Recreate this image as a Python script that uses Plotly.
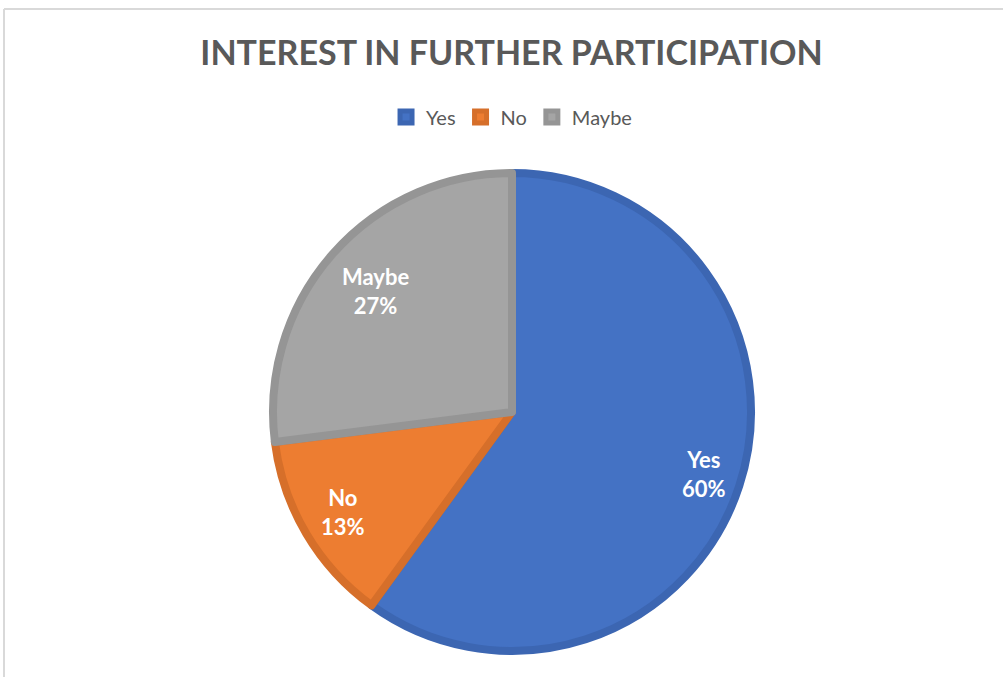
import math
import plotly.graph_objects as go

# Survey responses
categories = ["Yes", "No", "Maybe"]
shares = [60, 13, 27]

fill_colors = ["#4472C4", "#ED7D31", "#A5A5A5"]
edge_colors = ["#3C66B2", "#D66F2A", "#959595"]
# how far out along each slice's bisector its label sits (fraction of radius)
label_radius = [0.83, 0.81, 0.75]

W, H = 1003, 677
cx, cy, r = 512, 412, 239

fig = go.Figure(
    go.Pie(
        labels=categories,
        values=shares,
        sort=False,
        direction="clockwise",
        rotation=0,
        textinfo="none",
        marker=dict(colors=fill_colors, line=dict(color=edge_colors, width=8)),
        hoverinfo="label+percent",
        domain=dict(
            x=[(cx - r) / W, (cx + r) / W],
            y=[1 - (cy + r) / H, 1 - (cy - r) / H],
        ),
    )
)

# slice labels placed on each slice's bisector, clockwise from 12 o'clock
total = sum(shares)
annotations = []
start = 0.0
for name, val, frac in zip(categories, shares, label_radius):
    mid = (start + val / 2) / total * 2 * math.pi
    start += val
    px = cx + frac * (r + 4) * math.sin(mid)
    py = cy - frac * (r + 4) * math.cos(mid)
    annotations.append(dict(
        x=px / W, y=1 - py / H, xref="paper", yref="paper",
        xanchor="center", yanchor="middle",
        text=f"<b>{name}</b><br><b>{round(val / total * 100)}%</b>",
        showarrow=False, align="center",
        font=dict(family="Lato", size=22, color="white"),
    ))

fig.update_layout(
    width=W,
    height=H,
    margin=dict(l=0, r=0, t=0, b=0),
    paper_bgcolor="white",
    plot_bgcolor="white",
    title=dict(
        text="<b>INTEREST IN FURTHER PARTICIPATION</b>",
        font=dict(family="Lato", size=34, color="#595959"),
        x=0.51,
        xanchor="center",
        y=1 - 53 / H,
        yanchor="middle",
    ),
    legend=dict(
        orientation="h",
        x=0.51,
        xanchor="center",
        y=1 - 117 / H,
        yanchor="middle",
        font=dict(family="Lato", size=20, color="#595959"),
        itemwidth=30,
        traceorder="normal",
    ),
    annotations=annotations,
    shapes=[
        dict(type="line", xref="paper", yref="paper",
             x0=4 / W, x1=1, y0=1 - 9 / H, y1=1 - 9 / H,
             line=dict(color="#D9D9D9", width=2)),
        dict(type="line", xref="paper", yref="paper",
             x0=4 / W, x1=4 / W, y0=1 - 9 / H, y1=0,
             line=dict(color="#D9D9D9", width=2)),
    ],
)

fig.write_html("out.html")
